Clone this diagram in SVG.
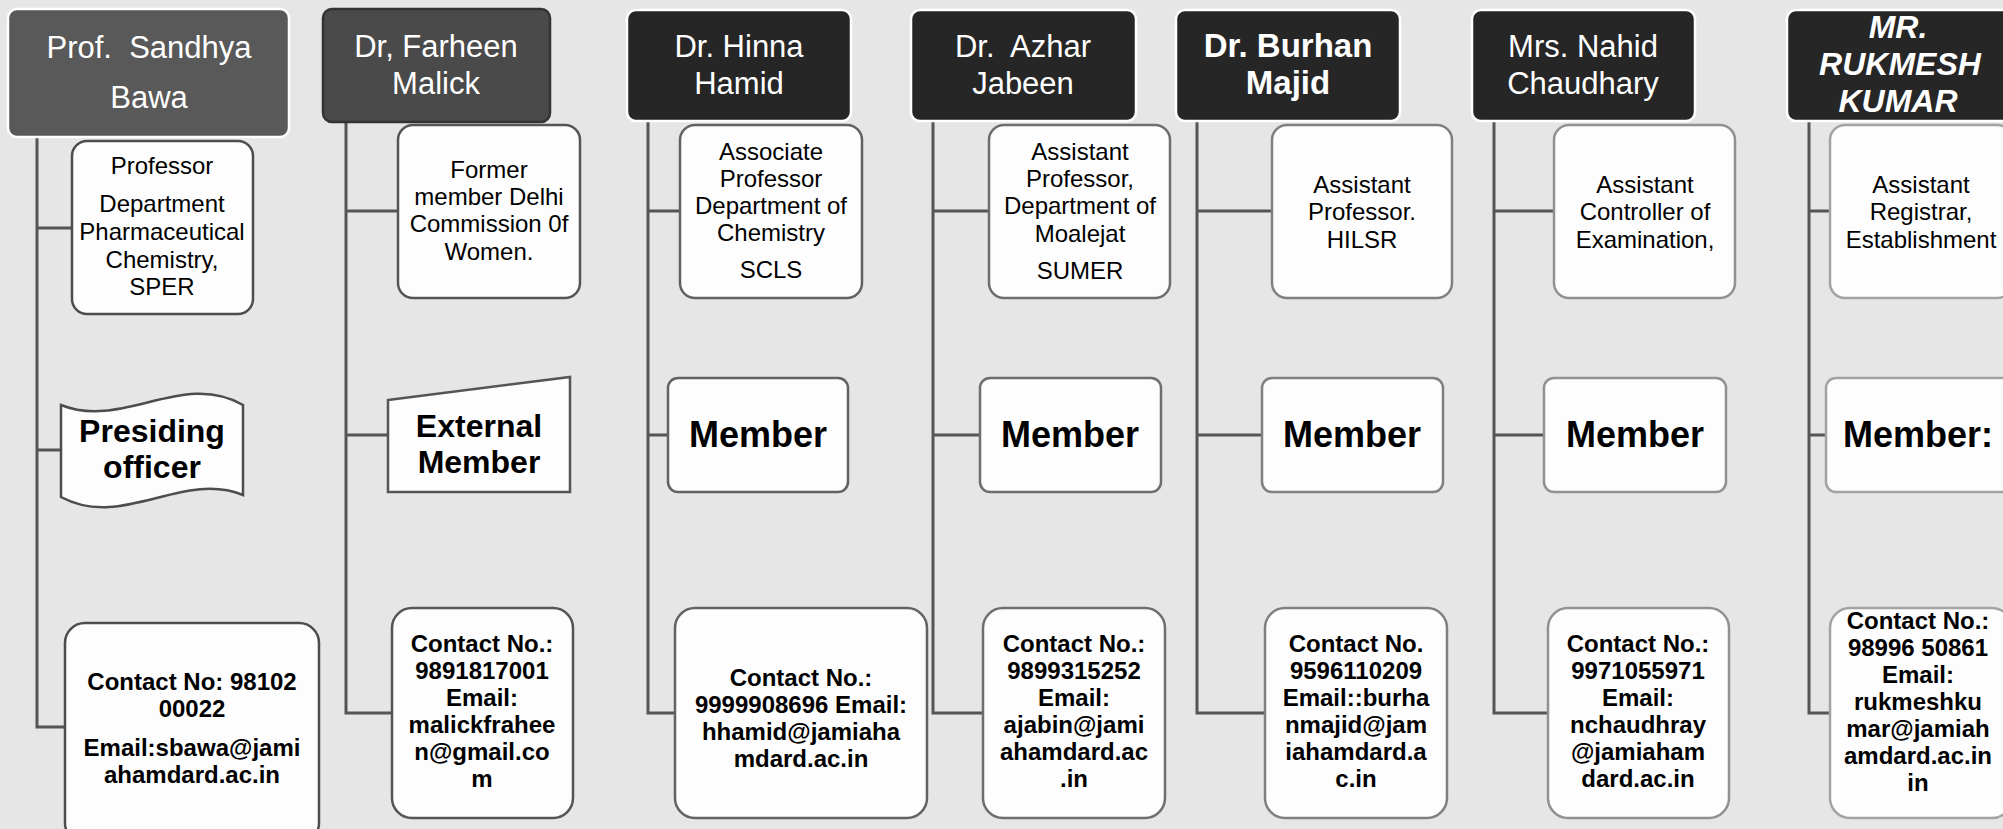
<svg xmlns="http://www.w3.org/2000/svg" width="2003" height="829" viewBox="0 0 2003 829">
<style>
.bg{fill:#e6e6e6}
.hd{stroke:#ffffff;stroke-width:2.5}
.ht{font-family:"Liberation Sans",Arial,sans-serif;font-size:31px;fill:#ffffff;text-anchor:middle}
.hb{font-size:33px;font-weight:bold}
.hi{font-size:32px;font-weight:bold;font-style:italic}
.bx{fill:#fdfdfd;stroke-width:2.5}
.t1{font-family:"Liberation Sans",Arial,sans-serif;font-size:24px;fill:#000;text-anchor:middle}
.t2{font-family:"Liberation Sans",Arial,sans-serif;font-size:24px;font-weight:bold;fill:#000;text-anchor:middle}
.t3{font-family:"Liberation Sans",Arial,sans-serif;font-size:32px;font-weight:bold;fill:#000;text-anchor:middle}
.t4{font-family:"Liberation Sans",Arial,sans-serif;font-size:36px;font-weight:bold;fill:#000;text-anchor:middle}
.c1{stroke:#4d4d4d}.c2{stroke:#555}.c3{stroke:#626262}.c4{stroke:#6e6e6e}.c5{stroke:#808080}.c6{stroke:#919191}.c7{stroke:#a3a3a3}
.ln{fill:none;stroke:#555;stroke-width:3}
</style>
<rect class="bg" x="0" y="0" width="2003" height="829"/>
<g id="connectors">
<path class="ln" d="M37,137V727H65M37,228H72M37,450H61"/>
<path class="ln" d="M346,122V713H392M346,211H398M346,435H388"/>
<path class="ln" d="M648,121V713H675M648,211H680M648,435H668"/>
<path class="ln" d="M933,121V713H983M933,211H989M933,435H980"/>
<path class="ln" d="M1197,121V713H1265M1197,211H1272M1197,435H1262"/>
<path class="ln" d="M1494,121V713H1548M1494,211H1554M1494,435H1544"/>
<path class="ln" d="M1809,121V713H1830M1809,211H1830M1809,435H1826"/>
</g>
<g id="h1"><rect class="hd" x="8" y="9" width="281" height="128" rx="9" fill="#595959"/>
<text class="ht" x="149" y="58" style="white-space:pre">Prof.  Sandhya</text><text class="ht" x="149" y="108">Bawa</text></g>
<g id="h2"><rect x="323" y="9" width="227" height="113" rx="9" fill="#4a4a4a" stroke="#333" stroke-width="2.5"/>
<text class="ht" x="436" y="57">Dr, Farheen</text><text class="ht" x="436" y="94">Malick</text></g>
<g id="h3"><rect class="hd" x="627" y="10" width="224" height="111" rx="9" fill="#262626"/>
<text class="ht" x="739" y="57">Dr. Hinna</text><text class="ht" x="739" y="94">Hamid</text></g>
<g id="h4"><rect class="hd" x="911" y="10" width="225" height="111" rx="9" fill="#262626"/>
<text class="ht" x="1023" y="57" style="white-space:pre">Dr.  Azhar</text><text class="ht" x="1023" y="94">Jabeen</text></g>
<g id="h5"><rect class="hd" x="1176" y="10" width="224" height="111" rx="9" fill="#262626"/>
<text class="ht hb" x="1288" y="57">Dr. Burhan</text><text class="ht hb" x="1288" y="94">Majid</text></g>
<g id="h6"><rect class="hd" x="1472" y="10" width="223" height="111" rx="9" fill="#262626"/>
<text class="ht" x="1583" y="57">Mrs. Nahid</text><text class="ht" x="1583" y="94">Chaudhary</text></g>
<g id="h7"><rect class="hd" x="1787" y="10" width="226" height="111" rx="9" fill="#262626"/>
<text class="ht hi" x="1898" y="38">MR.</text><text class="ht hi" x="1900" y="75">RUKMESH</text><text class="ht hi" x="1898" y="112">KUMAR</text></g>

<g id="d1"><rect class="bx c1" x="72" y="141" width="181" height="173" rx="15"/>
<text class="t1" x="162" y="174">Professor</text><text class="t1" x="162" y="212">Department</text><text class="t1" x="162" y="240">Pharmaceutical</text><text class="t1" x="162" y="268">Chemistry,</text><text class="t1" x="162" y="295">SPER</text></g>
<g id="d2"><rect class="bx c2" x="398" y="125" width="182" height="173" rx="15"/>
<text class="t1" x="489" y="178">Former</text><text class="t1" x="489" y="205">member Delhi</text><text class="t1" x="489" y="232">Commission 0f</text><text class="t1" x="489" y="260">Women.</text></g>
<g id="d3"><rect class="bx c3" x="680" y="125" width="182" height="173" rx="15"/>
<text class="t1" x="771" y="160">Associate</text><text class="t1" x="771" y="187">Professor</text><text class="t1" x="771" y="214">Department of</text><text class="t1" x="771" y="241">Chemistry</text><text class="t1" x="771" y="278">SCLS</text></g>
<g id="d4"><rect class="bx c4" x="989" y="125" width="181" height="173" rx="15"/>
<text class="t1" x="1080" y="160">Assistant</text><text class="t1" x="1080" y="187">Professor,</text><text class="t1" x="1080" y="214">Department of</text><text class="t1" x="1080" y="242">Moalejat</text><text class="t1" x="1080" y="279">SUMER</text></g>
<g id="d5"><rect class="bx c5" x="1272" y="125" width="180" height="173" rx="15"/>
<text class="t1" x="1362" y="193">Assistant</text><text class="t1" x="1362" y="220">Professor.</text><text class="t1" x="1362" y="248">HILSR</text></g>
<g id="d6"><rect class="bx c6" x="1554" y="125" width="181" height="173" rx="15"/>
<text class="t1" x="1645" y="193">Assistant</text><text class="t1" x="1645" y="220">Controller of</text><text class="t1" x="1645" y="248">Examination,</text></g>
<g id="d7"><rect class="bx c7" x="1830" y="125" width="182" height="173" rx="15"/>
<text class="t1" x="1921" y="193">Assistant</text><text class="t1" x="1921" y="220">Registrar,</text><text class="t1" x="1921" y="248">Establishment</text></g>

<g id="r1"><path class="bx c1" d="M61,405C122,430 183,370 243,405V495C183,470 122,530 61,497Z"/>
<text class="t3" x="152" y="442">Presiding</text><text class="t3" x="152" y="478">officer</text></g>
<g id="r2"><path class="bx c2" d="M388,400L570,377V492H388Z"/>
<text class="t3" x="479" y="437">External</text><text class="t3" x="479" y="473">Member</text></g>
<g id="r3"><rect class="bx c3" x="668" y="378" width="180" height="114" rx="10"/><text class="t4" x="758" y="447">Member</text></g>
<g id="r4"><rect class="bx c4" x="980" y="378" width="181" height="114" rx="10"/><text class="t4" x="1070" y="447">Member</text></g>
<g id="r5"><rect class="bx c5" x="1262" y="378" width="181" height="114" rx="10"/><text class="t4" x="1352" y="447">Member</text></g>
<g id="r6"><rect class="bx c6" x="1544" y="378" width="182" height="114" rx="10"/><text class="t4" x="1635" y="447">Member</text></g>
<g id="r7"><rect class="bx c7" x="1826" y="378" width="186" height="114" rx="10"/><text class="t4" x="1918" y="447">Member:</text></g>

<g id="e1"><rect class="bx c1" x="65" y="623" width="254" height="220" rx="20"/>
<text class="t2" x="192" y="690">Contact No: 98102</text><text class="t2" x="192" y="717">00022</text><text class="t2" x="192" y="756">Email:sbawa@jami</text><text class="t2" x="192" y="783">ahamdard.ac.in</text></g>
<g id="e2"><rect class="bx c2" x="392" y="608" width="181" height="210" rx="20"/>
<text class="t2" x="482" y="652">Contact No.:</text><text class="t2" x="482" y="679">9891817001</text><text class="t2" x="482" y="706">Email:</text><text class="t2" x="482" y="733">malickfrahee</text><text class="t2" x="482" y="760">n@gmail.co</text><text class="t2" x="482" y="787">m</text></g>
<g id="e3"><rect class="bx c3" x="675" y="608" width="252" height="210" rx="20"/>
<text class="t2" x="801" y="686">Contact No.:</text><text class="t2" x="801" y="713">9999908696 Email:</text><text class="t2" x="801" y="740">hhamid@jamiaha</text><text class="t2" x="801" y="767">mdard.ac.in</text></g>
<g id="e4"><rect class="bx c4" x="983" y="608" width="182" height="210" rx="20"/>
<text class="t2" x="1074" y="652">Contact No.:</text><text class="t2" x="1074" y="679">9899315252</text><text class="t2" x="1074" y="706">Email:</text><text class="t2" x="1074" y="733">ajabin@jami</text><text class="t2" x="1074" y="760">ahamdard.ac</text><text class="t2" x="1074" y="787">.in</text></g>
<g id="e5"><rect class="bx c5" x="1265" y="608" width="182" height="210" rx="20"/>
<text class="t2" x="1356" y="652">Contact No.</text><text class="t2" x="1356" y="679">9596110209</text><text class="t2" x="1356" y="706">Email::burha</text><text class="t2" x="1356" y="733">nmajid@jam</text><text class="t2" x="1356" y="760">iahamdard.a</text><text class="t2" x="1356" y="787">c.in</text></g>
<g id="e6"><rect class="bx c6" x="1548" y="608" width="181" height="210" rx="20"/>
<text class="t2" x="1638" y="652">Contact No.:</text><text class="t2" x="1638" y="679">9971055971</text><text class="t2" x="1638" y="706">Email:</text><text class="t2" x="1638" y="733">nchaudhray</text><text class="t2" x="1638" y="760">@jamiaham</text><text class="t2" x="1638" y="787">dard.ac.in</text></g>
<g id="e7"><rect class="bx c7" x="1830" y="608" width="182" height="210" rx="20"/>
<text class="t2" x="1918" y="629">Contact No.:</text><text class="t2" x="1918" y="656">98996 50861</text><text class="t2" x="1918" y="683">Email:</text><text class="t2" x="1918" y="710">rukmeshku</text><text class="t2" x="1918" y="737">mar@jamiah</text><text class="t2" x="1918" y="764">amdard.ac.in</text><text class="t2" x="1918" y="791">in</text></g>
</svg>
